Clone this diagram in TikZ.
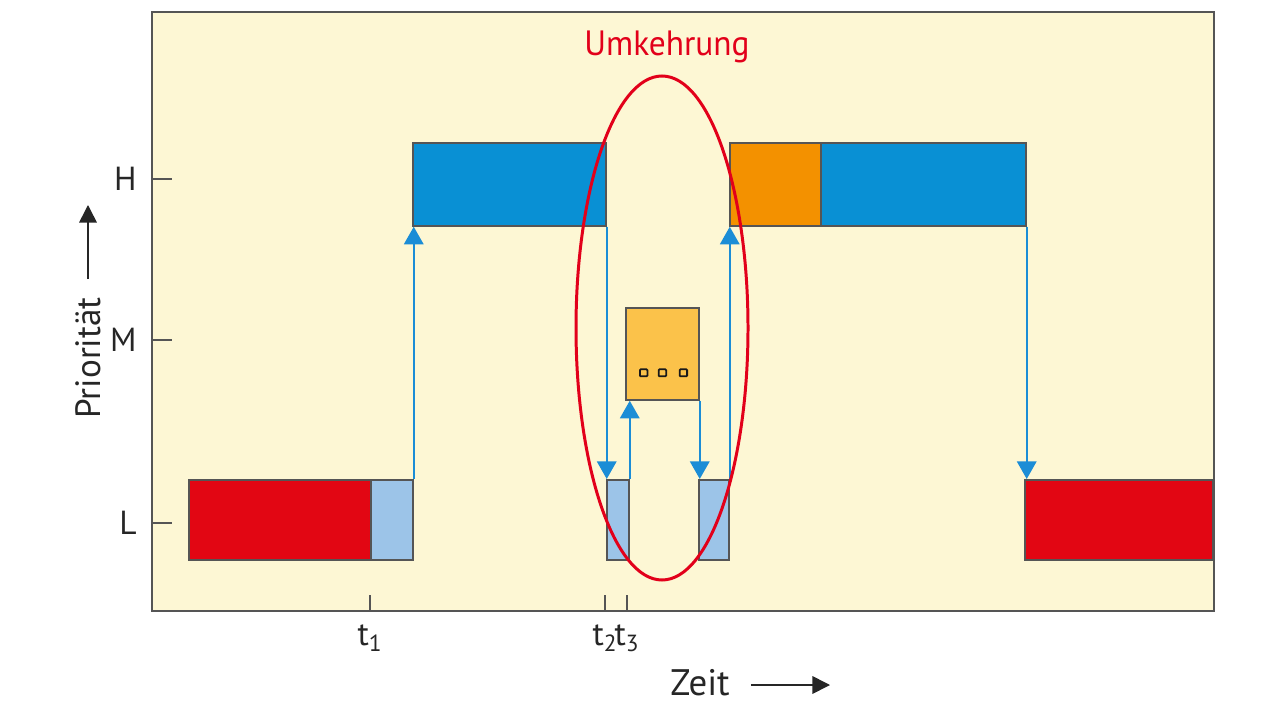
\documentclass[tikz,border=0pt]{standalone}
\usepackage{fontspec}
\setmainfont{PT Sans}
\usepackage{tikz}
\usetikzlibrary{positioning, arrows.meta, calc}
\definecolor{creme}{HTML}{FDF7D4}
\definecolor{rahmen}{HTML}{555555}
\definecolor{rotL}{HTML}{E20613}
\definecolor{hellblau}{HTML}{9CC4E8}
\definecolor{blauH}{HTML}{0990D4}
\definecolor{orangeH}{HTML}{F39100}
\definecolor{gelbM}{HTML}{FBC24A}
\definecolor{pfeil}{HTML}{1B8DD6}
\definecolor{markrot}{HTML}{E2001A}

\tikzset{
  block/.style={draw=rahmen, line width=1pt, inner sep=0pt, anchor=north west},
  lblock/.style={block, minimum height=1.6cm},
  hblock/.style={block, minimum height=1.66cm},
  sprung/.style={-{Triangle[width=11pt, length=10pt]}, pfeil, line width=1.3pt},
  achse/.style={-{Triangle[width=10pt, length=10pt]}, black!85, line width=0.9pt},
  stufe/.style={font=\fontsize{19}{19}\selectfont, anchor=east, text=black!85},
}

\begin{document}
\begin{tikzpicture}[x=0.02cm, y=-0.02cm]
    \useasboundingbox (0,0) rectangle (1280,719);
    % Hintergrund
    \fill[creme] (152,12) rectangle (1214,611);
    \draw[rahmen, line width=1.4pt] (152,12) rectangle (1214,611);
    % Prioritaetsstufen
    \foreach \name/\yy in {H/179, M/340, L/523}
      \draw[rahmen, line width=0.9pt] (152,\yy) -- (172,\yy)
        node[stufe, at start, xshift=-5pt] (stufe\name) {\name};
    % Bloecke
    \node[lblock, fill=rotL, minimum width=3.64cm] (rotA) at (188,479) {};
    \node[lblock, fill=hellblau, minimum width=0.84cm] (tiefA) at (370,479) {};
    \node[hblock, fill=blauH, minimum width=3.86cm] (hochA) at (412,142) {};
    \node[lblock, fill=hellblau, minimum width=0.44cm] (tiefB) at (606,479) {};
    \node[block, fill=gelbM, minimum width=1.46cm, minimum height=1.84cm] (mittel) at (625,307) {};
    \node[lblock, fill=hellblau, minimum width=0.6cm] (tiefC) at (698,479) {};
    \node[hblock, fill=orangeH, minimum width=1.82cm] (hochB) at (729,142) {};
    \node[hblock, fill=blauH, minimum width=4.1cm] (hochC) at (820,142) {};
    \node[lblock, fill=rotL, minimum width=3.76cm] (rotB) at (1024,479) {};
    \foreach \dx in {-0.45, -0.075, 0.345}
      \draw[black!90, line width=1pt, rounded corners=0.5pt] ($(mittel.center)+(\dx cm,-0.31cm)$) rectangle +(0.15cm,-0.14cm);
    % Wechsel
    \draw[sprung] (tiefA.north east) -- (tiefA.north east |- hochA.south);
    \draw[sprung] (hochA.south east) -- (hochA.south east |- tiefB.north);
    \draw[sprung] (tiefB.north east) -- (tiefB.north east |- mittel.south);
    \draw[sprung] (mittel.south east) -- (mittel.south east |- tiefC.north);
    \draw[sprung] (tiefC.north east) -- (tiefC.north east |- hochB.south);
    \draw[sprung] (hochC.south east) -- (hochC.south east |- rotB.north);
    % Umkehrung
    \draw[markrot, line width=1.7pt] (662,328) ellipse [x radius=86, y radius=252];
    \node[markrot, font=\fontsize{20}{20}\selectfont, xscale=0.95] (umkehr) at (667,47) {Umkehrung};
    % Zeitpunkte
    \foreach \name/\xx in {1/370, 2/605, 3/627}
      \draw[rahmen, line width=0.8pt] (\xx,595) -- (\xx,611)
        node[at end, below=4pt, font=\fontsize{19}{19}\selectfont, text=black!85] (zeit\name) {t\textsubscript{\name}};
    % Achsen
    \node[rotate=90, font=\fontsize{20}{20}\selectfont, text=black!85] (prio) at (88,358) {Priorität};
    \coordinate (prioEnde) at (88,205);
    \draw[achse] (prio.east) ++(0,-12) -- (prioEnde);
    \node[font=\fontsize{21}{21}\selectfont, text=black!85] (zeitLabel) at (700,683) {Zeit};
    \coordinate (zeitEnde) at (830,685);
    \draw[achse] ($(zeitLabel.east)+(15,2)$) -- (zeitEnde);
\end{tikzpicture}
\end{document}
